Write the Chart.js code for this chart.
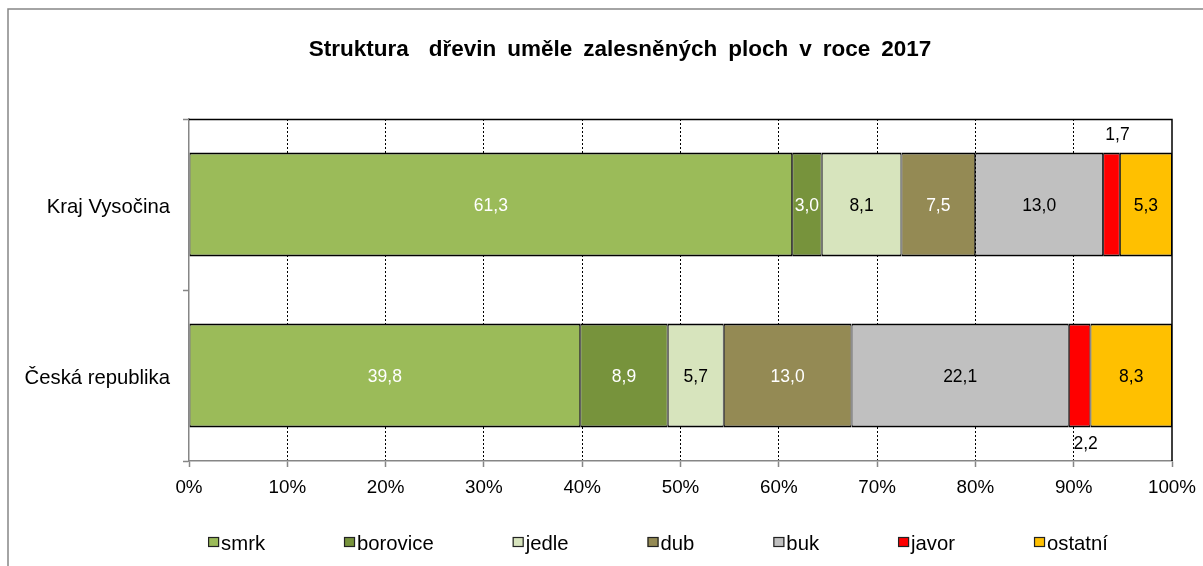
<!DOCTYPE html>
<html>
<head>
<meta charset="utf-8">
<script src="https://cdn.jsdelivr.net/npm/chart.js@4.4.0/dist/chart.umd.min.js"></script>
<style>
html,body{margin:0;padding:0;background:#fff;}
#wrap{width:1203px;height:566px;position:relative;overflow:hidden;}
canvas{display:block;}
</style>
</head>
<body>
<div id="wrap"><canvas id="c" width="1203" height="566"></canvas></div>
<script>
// ---- data ----
const categories = ['Kraj Vysočina', 'Česká republika'];
const seriesNames = ['smrk', 'borovice', 'jedle', 'dub', 'buk', 'javor', 'ostatní'];
const smrk     = [61.3, 39.8];
const borovice = [3.0, 8.9];
const jedle    = [8.1, 5.7];
const dub      = [7.5, 13.0];
const buk      = [13.0, 22.1];
const javor    = [1.7, 2.2];
const ostatni  = [5.3, 8.3];
const xTickValues = [0, 10, 20, 30, 40, 50, 60, 70, 80, 90, 100];
const xTickLabels = ['0%', '10%', '20%', '30%', '40%', '50%', '60%', '70%', '80%', '90%', '100%'];
const chartTitle = 'Struktura  dřevin uměle zalesněných ploch v roce 2017';

// ---- styles ----
const seriesValues = [smrk, borovice, jedle, dub, buk, javor, ostatni];
const seriesColors = ['#9BBB59', '#77933C', '#D7E4BD', '#948A54', '#C0C0C0', '#FF0000', '#FFC000'];
const labelColors  = ['#FFFFFF', '#FFFFFF', '#000000', '#FFFFFF', '#000000', '#000000', '#000000'];
const FONT = '"Liberation Sans", Arial, Helvetica, sans-serif';

// 100% stacked: normalise per category
const totals = categories.map((c, i) => seriesValues.reduce((s, arr) => s + arr[i], 0));

const datasets = seriesNames.map((name, k) => ({
  label: name,
  rawValues: seriesValues[k],
  data: seriesValues[k].map((v, i) => v / totals[i] * 100),
  backgroundColor: seriesColors[k],
  borderColor: '#000000',
  borderWidth: {top: 2, bottom: 2, left: 1, right: 1},
  borderSkipped: false,
  barPercentage: 0.608,
  categoryPercentage: 1.0,
  labelColor: labelColors[k],
  outsideLabel: name === 'javor'
}));

const bgAndFrame = {
  id: 'bgAndFrame',
  beforeDraw(chart) {
    const ctx = chart.ctx;
    ctx.save();
    ctx.fillStyle = '#fff';
    ctx.fillRect(0, 0, chart.width, chart.height);
    ctx.strokeStyle = '#868686';
    ctx.lineWidth = 1.5;
    ctx.strokeRect(8, 9, chart.width + 20, chart.height + 20);
    ctx.restore();
  },
  afterDraw(chart) {
    const a = chart.chartArea;
    const ctx = chart.ctx;
    ctx.save();
    ctx.strokeStyle = '#000';
    ctx.lineWidth = 1.5;
    ctx.beginPath();
    ctx.moveTo(a.left, a.top + 0.5);
    ctx.lineTo(a.right, a.top + 0.5);
    ctx.lineTo(a.right, a.bottom);
    ctx.stroke();
    ctx.restore();
  }
};

const customTitle = {
  id: 'customTitle',
  afterDraw(chart) {
    const ctx = chart.ctx;
    const centerX = 620, cy = 50;
    const gapSingle = 11, gapExtra = 9;
    ctx.save();
    ctx.font = 'bold 22.5px ' + FONT;
    ctx.fillStyle = '#000';
    ctx.textBaseline = 'middle';
    ctx.textAlign = 'left';
    const tokens = chartTitle.split(/( +)/).filter(t => t.length);
    const widths = tokens.map(t => t.trim().length ? ctx.measureText(t).width : gapSingle + (t.length - 1) * gapExtra);
    const total = widths.reduce((a, b) => a + b, 0);
    let x = centerX - total / 2;
    tokens.forEach((t, i) => {
      if (t.trim().length) ctx.fillText(t, x, cy);
      x += widths[i];
    });
    ctx.restore();
  }
};

const valueLabels = {
  id: 'valueLabels',
  afterDatasetsDraw(chart) {
    const ctx = chart.ctx;
    ctx.save();
    ctx.font = '17.5px ' + FONT;
    ctx.textAlign = 'center';
    ctx.textBaseline = 'middle';
    chart.data.datasets.forEach((ds, di) => {
      const meta = chart.getDatasetMeta(di);
      meta.data.forEach((bar, i) => {
        const p = bar.getProps(['x', 'y', 'base', 'height'], true);
        const text = ds.rawValues[i].toFixed(1).replace('.', ',');
        let x = (p.x + p.base) / 2;
        let y = p.y + 1.5;
        if (ds.outsideLabel) {
          x += 6;
          y = (i === 0) ? p.y - p.height / 2 - 17 : p.y + p.height / 2 + 17;
          ctx.fillStyle = '#000';
        } else {
          ctx.fillStyle = ds.labelColor;
        }
        ctx.fillText(text, x, y);
      });
    });
    ctx.restore();
  }
};

const customLegend = {
  id: 'customLegend',
  afterDraw(chart) {
    const ctx = chart.ctx;
    const ds = chart.data.datasets;
    const boxW = 11, boxH = 10, gapBox = 2, gapItem = 79;
    const cy = 543;
    const centerX = 658;
    ctx.save();
    ctx.font = '20.3px ' + FONT;
    ctx.textBaseline = 'middle';
    ctx.textAlign = 'left';
    const widths = ds.map(d => ctx.measureText(d.label).width);
    let total = 0;
    widths.forEach((w, i) => { total += boxW + gapBox + w + (i < widths.length - 1 ? gapItem : 0); });
    let x = centerX - total / 2;
    ds.forEach((d, i) => {
      ctx.fillStyle = d.backgroundColor;
      ctx.fillRect(x, cy - boxH / 2 - 1, boxW, boxH);
      ctx.strokeStyle = '#222';
      ctx.lineWidth = 1.2;
      ctx.strokeRect(x + 0.5, cy - boxH / 2 - 0.5, boxW - 1, boxH - 1);
      ctx.fillStyle = '#000';
      ctx.fillText(d.label, x + boxW + gapBox, cy + 1);
      x += boxW + gapBox + widths[i] + gapItem;
    });
    ctx.restore();
  }
};

new Chart(document.getElementById('c'), {
  type: 'bar',
  data: { labels: categories, datasets: datasets },
  plugins: [bgAndFrame, customTitle, valueLabels, customLegend],
  options: {
    responsive: false,
    animation: false,
    devicePixelRatio: 1,
    indexAxis: 'y',
    layout: { padding: { left: 0, right: 31, top: 119, bottom: 0 } },
    plugins: {
      legend: { display: false },
      tooltip: { enabled: false },
      title: { display: false }
    },
    scales: {
      x: {
        stacked: true,
        min: 0,
        max: 100,
        afterBuildTicks: s => { s.ticks = xTickValues.map(v => ({ value: v })); },
        ticks: {
          callback: (v) => xTickLabels[xTickValues.indexOf(v)],
          color: '#000',
          font: { family: FONT, size: 18.8 },
          padding: 10,
          maxRotation: 0,
          autoSkip: false
        },
        grid: {
          color: c => (c.tick && (c.tick.value === 0 || c.tick.value === 100)) ? 'rgba(0,0,0,0)' : '#000',
          lineWidth: 1,
          tickColor: '#868686',
          tickLength: 6,
          tickWidth: 1.5,
          tickBorderDash: [],
          drawTicks: true
        },
        border: { color: '#868686', width: 1.5, dash: [2, 2] },
        afterFit: s => { s.height = 105; s.paddingLeft = 0; s.paddingRight = 0; }
      },
      y: {
        stacked: true,
        ticks: {
          color: '#000',
          font: { family: FONT, size: 20.3 },
          padding: 13,
          labelOffset: 3
        },
        grid: {
          drawOnChartArea: false,
          offset: true,
          color: '#868686',
          tickColor: '#868686',
          tickLength: 6,
          tickWidth: 1.5
        },
        border: { color: '#868686', width: 1.5 },
        afterFit: s => { s.width = 189; s.paddingTop = 0; s.paddingBottom = 0; }
      }
    }
  }
});
</script>
</body>
</html>
